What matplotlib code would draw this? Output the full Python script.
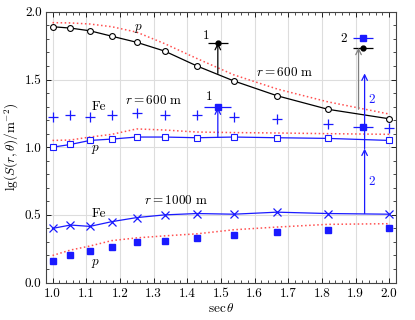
import matplotlib
matplotlib.use("Agg")
import matplotlib.pyplot as plt
from matplotlib.ticker import MultipleLocator

plt.rcParams["font.family"] = "serif"
plt.rcParams["font.serif"] = ["cmr10", "DejaVu Serif"]
plt.rcParams["mathtext.fontset"] = "cm"
plt.rcParams["axes.formatter.use_mathtext"] = True

# sec(theta) values
sec_theta = [1.0, 1.053, 1.111, 1.176, 1.25, 1.333, 1.429, 1.538, 1.667, 1.818, 2.0]

# r = 600 m
p600_sim = [1.89, 1.88, 1.86, 1.82, 1.775, 1.71, 1.60, 1.49, 1.38, 1.28, 1.21]
p600_fit = [1.92, 1.918, 1.91, 1.89, 1.85, 1.765, 1.655, 1.535, 1.43, 1.335, 1.245]
fe600_sim = [1.0, 1.02, 1.05, 1.06, 1.075, 1.075, 1.07, 1.075, 1.07, 1.065, 1.05]
fe600_fit = [1.05, 1.053, 1.075, 1.095, 1.135, 1.127, 1.112, 1.108, 1.105, 1.10, 1.095]
fe600_meas = [1.225, 1.235, 1.22, 1.235, 1.25, 1.235, 1.24, 1.225, 1.205, 1.175, 1.145]

# r = 1000 m
fe1000_sim = [0.40, 0.425, 0.415, 0.45, 0.48, 0.50, 0.51, 0.505, 0.52, 0.51, 0.505]
p1000_meas = [0.16, 0.20, 0.23, 0.26, 0.30, 0.31, 0.33, 0.35, 0.37, 0.385, 0.40]
p1000_fit = [0.20, 0.24, 0.27, 0.31, 0.33, 0.345, 0.36, 0.39, 0.41, 0.43, 0.435]

# reference measurements (x, y, x-half-width)
black_pts_x = [1.491, 1.923]
black_pts_y = [1.771, 1.735]
black_pts_xerr = [0.03, 0.03]
blue_pts_x = [1.491, 1.923, 1.923]
blue_pts_y = [1.294, 1.804, 1.151]
blue_pts_xerr = [0.04, 0.03, 0.03]

blue = "#1a1aff"
red = "#ff5050"

fig = plt.figure(figsize=(4.15, 3.2), dpi=100)
ax = fig.add_axes([0.112, 0.117, 0.842, 0.846])

ax.plot(sec_theta, p600_fit, ls=":", color=red, lw=1.1)
ax.plot(sec_theta, fe600_fit, ls=":", color=red, lw=1.1)
ax.plot(sec_theta, p1000_fit, ls=":", color=red, lw=1.1)

ax.plot(sec_theta, p600_sim, color="black", lw=0.9, marker="o", ms=4.2,
        mfc="white", mec="black", mew=0.8)
ax.plot(sec_theta, fe600_sim, color=blue, lw=0.9, marker="s", ms=4.2,
        mfc="white", mec=blue, mew=0.8)
ax.plot(sec_theta, fe600_meas, ls="none", marker="+", ms=7, color=blue, mew=0.9)
ax.plot(sec_theta, fe1000_sim, color=blue, lw=0.9, marker="x", ms=6, mew=0.9)
ax.plot(sec_theta, p1000_meas, ls="none", marker="s", ms=4.5, color=blue)

ax.errorbar(black_pts_x, black_pts_y, xerr=black_pts_xerr, fmt="o", ms=3.5,
            color="black", lw=0.9, capsize=0)
ax.errorbar(blue_pts_x, blue_pts_y, xerr=blue_pts_xerr, fmt="s", ms=4.5,
            color=blue, lw=0.9, capsize=0)

arrow = dict(arrowstyle="->", lw=0.9, shrinkA=0, shrinkB=0)
ax.annotate("", xy=(1.491, 1.771), xytext=(1.491, 1.545),
            arrowprops=dict(arrow, color="black"))
ax.annotate("", xy=(1.491, 1.294), xytext=(1.491, 1.073),
            arrowprops=dict(arrow, color=blue))
ax.annotate("", xy=(1.909, 1.735), xytext=(1.909, 1.28),
            arrowprops=dict(arrow, color="gray"))
ax.annotate("", xy=(1.927, 1.545), xytext=(1.927, 0.99),
            arrowprops=dict(arrow, color=blue))
ax.annotate("", xy=(1.927, 0.99), xytext=(1.927, 0.51),
            arrowprops=dict(arrow, color=blue))

fs = 9.5
ax.text(1.456, 1.823, "1", fontsize=fs, ha="center", va="center")
ax.text(1.466, 1.373, "1", fontsize=fs, ha="center", va="center")
ax.text(1.866, 1.797, "2", fontsize=fs, ha="center", va="center")
ax.text(1.947, 1.348, "2", fontsize=fs, ha="center", va="center", color=blue)
ax.text(1.947, 0.745, "2", fontsize=fs, ha="center", va="center", color=blue)

ax.text(1.255, 1.877, "$p$", fontsize=fs, ha="center", va="center")
ax.text(1.69, 1.55, r"$r = 600\ \mathrm{m}$", fontsize=fs, ha="center", va="center")
ax.text(1.139, 1.294, "Fe", fontsize=fs, ha="center", va="center")
ax.text(1.30, 1.348, r"$r = 600\ \mathrm{m}$", fontsize=fs, ha="center", va="center")
ax.text(1.129, 0.985, "$p$", fontsize=fs, ha="center", va="center")
ax.text(1.367, 0.605, r"$r = 1000\ \mathrm{m}$", fontsize=fs, ha="center", va="center")
ax.text(1.139, 0.505, "Fe", fontsize=fs, ha="center", va="center")
ax.text(1.129, 0.143, "$p$", fontsize=fs, ha="center", va="center")

ax.set_xlim(0.982, 2.02)
ax.set_ylim(0, 2.0)
ax.xaxis.set_major_locator(MultipleLocator(0.1))
ax.xaxis.set_minor_locator(MultipleLocator(0.02))
ax.yaxis.set_major_locator(MultipleLocator(0.5))
ax.yaxis.set_minor_locator(MultipleLocator(0.1))
ax.xaxis.set_major_formatter(plt.FormatStrFormatter("%.1f"))
ax.yaxis.set_major_formatter(plt.FormatStrFormatter("%.1f"))
ax.tick_params(which="both", direction="in", top=True, right=True, labelsize=fs)
ax.tick_params(which="major", length=3.5, width=0.6)
ax.tick_params(which="minor", length=2, width=0.5)
ax.grid(True, which="major", color="#dddddd", lw=0.8)
ax.set_axisbelow(True)
for s in ax.spines.values():
    s.set_linewidth(0.8)
    s.set_color("#444444")

ax.set_xlabel(r"$\sec\theta$", fontsize=fs, labelpad=2)
ax.set_ylabel(r"$\mathrm{lg}(S(r,\theta)/\mathrm{m}^{-2})$", fontsize=fs, labelpad=3)

fig.savefig("out.png", dpi=100)
